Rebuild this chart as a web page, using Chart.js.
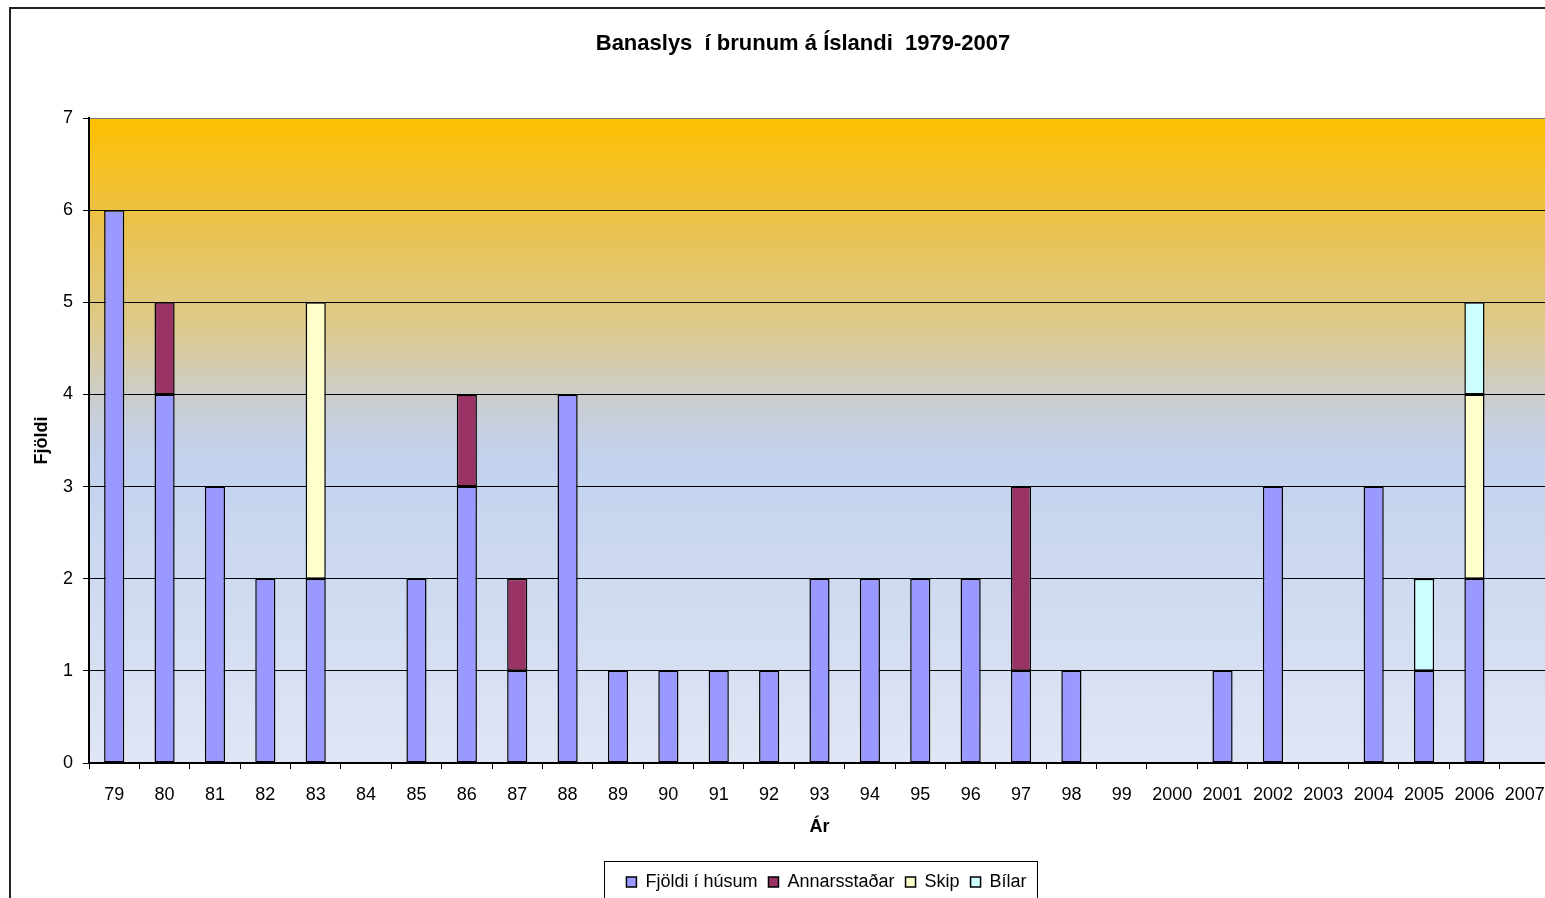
<!DOCTYPE html>
<html lang="is">
<head>
  <meta charset="UTF-8" />
  <title>Banaslys í brunum á Íslandi 1979-2007</title>
  <script src="https://cdn.jsdelivr.net/npm/chart.js"></script>
  <style>
    html, body { margin: 0; padding: 0; background: #fff; overflow: hidden; }
    .wrap { position: relative; width: 1600px; height: 898px; }
  </style>
</head>
<body>
  <div class="wrap"><canvas id="c" width="1600" height="898"></canvas></div>
  <script>
    const years = ['79','80','81','82','83','84','85','86','87','88','89','90','91','92','93','94','95','96','97','98','99','2000','2001','2002','2003','2004','2005','2006','2007'];
    const husum        = [6,4,3,2,2,0,2,3,1,4,1,1,1,1,2,2,2,2,1,1,0,0,1,3,0,3,1,2,0];
    const annarsstadar = [0,1,0,0,0,0,0,1,1,0,0,0,0,0,0,0,0,0,2,0,0,0,0,0,0,0,0,0,0];
    const skip         = [0,0,0,0,3,0,0,0,0,0,0,0,0,0,0,0,0,0,0,0,0,0,0,0,0,0,0,2,0];
    const bilar        = [0,0,0,0,0,0,0,0,0,0,0,0,0,0,0,0,0,0,0,0,0,0,0,0,0,0,1,1,0];
    const yTicks = [0,1,2,3,4,5,6,7];

    const FONT = 'Arial, "Liberation Sans", sans-serif';

    // gradient behind the plot + outer frame + legend frame
    const backdrop = {
      id: 'backdrop',
      beforeDraw(chart) {
        const {ctx, chartArea: a} = chart;
        ctx.save();
        ctx.fillStyle = '#fff';
        ctx.fillRect(0, 0, chart.width, chart.height);
        ctx.strokeStyle = '#222';
        ctx.lineWidth = 2;
        ctx.strokeRect(10, 8, 1586, 940);
        const g = ctx.createLinearGradient(0, a.top, 0, a.bottom);
        g.addColorStop(0, '#FFC000');
        g.addColorStop(0.17, '#EAC24E');
        g.addColorStop(0.33, '#DCCA8F');
        g.addColorStop(0.45, '#C9CED6');
        g.addColorStop(0.53, '#C2D2EE');
        g.addColorStop(1, '#E0E6F4');
        ctx.fillStyle = g;
        ctx.fillRect(a.left, a.top, a.right - a.left, a.bottom - a.top);
        ctx.restore();
      },
      afterDraw(chart) {
        const lg = chart.legend;
        if (!lg || !lg.legendHitBoxes.length) return;
        const hb = lg.legendHitBoxes;
        const l = Math.min(...hb.map(h => h.left)) - 22;
        const r = Math.max(...hb.map(h => h.left + h.width)) + 11;
        const ctx = chart.ctx;
        ctx.save();
        ctx.strokeStyle = '#000';
        ctx.lineWidth = 1;
        ctx.strokeRect(Math.round(l) + 0.5, 861.5, Math.round(r - l), 60);
        ctx.restore();
      }
    };

    // fix legend height so the plot bottom lands where it should, then drop it into its frame
    const legendFit = {
      id: 'legendFit',
      afterInit(chart) {
        const lg = chart.legend;
        const fit = lg.fit;
        lg.fit = function () { fit.call(this); this.height = 58; };
      },
      afterLayout(chart) {
        const lg = chart.legend;
        lg.top += 22;
        lg.bottom += 22;
        lg.left += 7;
        lg.right += 7;
      }
    };

    const ds = (label, data, color) => ({
      label, data, backgroundColor: color, borderColor: '#000', borderWidth: 1.5,
      borderSkipped: false, categoryPercentage: 0.8, barPercentage: 0.5
    });

    new Chart(document.getElementById('c'), {
      type: 'bar',
      data: {
        labels: years,
        datasets: [
          ds('Fjöldi í húsum', husum, '#9999FF'),
          ds('Annarsstaðar', annarsstadar, '#993366'),
          ds('Skip', skip, '#FFFFCC'),
          ds('Bílar', bilar, '#CCFFFF')
        ]
      },
      options: {
        responsive: false,
        animation: false,
        layout: { padding: { left: 12, right: 6, top: 0, bottom: 0 } },
        plugins: {
          title: {
            display: true,
            text: 'Banaslys  í brunum á Íslandi  1979-2007',
            color: '#000',
            font: { family: FONT, size: 22, weight: 'bold' },
            padding: { top: 31, bottom: 60.6 }
          },
          legend: {
            position: 'bottom',
            fullSize: false,
            labels: {
              color: '#000',
              font: { family: FONT, size: 18 },
              boxWidth: 10, boxHeight: 10,
              padding: 11
            }
          },
          tooltip: { enabled: false }
        },
        scales: {
          x: {
            stacked: true,
            afterFit(s) { s.height = 77; },
            border: { color: '#000', width: 2 },
            grid: { offset: true, drawOnChartArea: false, drawTicks: true, tickLength: 6, color: '#000' },
            ticks: { color: '#000', font: { family: FONT, size: 18 }, padding: 15, maxRotation: 0, autoSkip: false },
            title: { display: true, text: 'Ár', color: '#000', font: { family: FONT, size: 18, weight: 'bold' }, padding: { top: 0, bottom: 2 } }
          },
          y: {
            stacked: true,
            min: 0, max: 7,
            afterFit(s) { s.width = 77; },
            afterBuildTicks(s) { s.ticks = yTicks.map(v => ({ value: v })); },
            border: { color: '#000', width: 2 },
            grid: { color: ctx => ctx.tick && ctx.tick.value === 7 ? '#777' : '#000', lineWidth: 1, tickLength: 6, drawTicks: true, tickColor: '#000' },
            ticks: { color: '#000', font: { family: FONT, size: 18 }, padding: 10 },
            title: { display: true, text: 'Fjöldi', color: '#000', font: { family: FONT, size: 18, weight: 'bold' }, padding: { top: 19, bottom: 0 } }
          },
          // empty strip on the right, the chart frame continues past the plot
          yR: {
            position: 'right',
            display: true,
            min: 0, max: 7,
            afterFit(s) { s.width = 44; },
            border: { display: false },
            grid: { drawOnChartArea: false, drawTicks: false },
            ticks: { display: false }
          }
        }
      },
      plugins: [backdrop, legendFit]
    });
  </script>
</body>
</html>
